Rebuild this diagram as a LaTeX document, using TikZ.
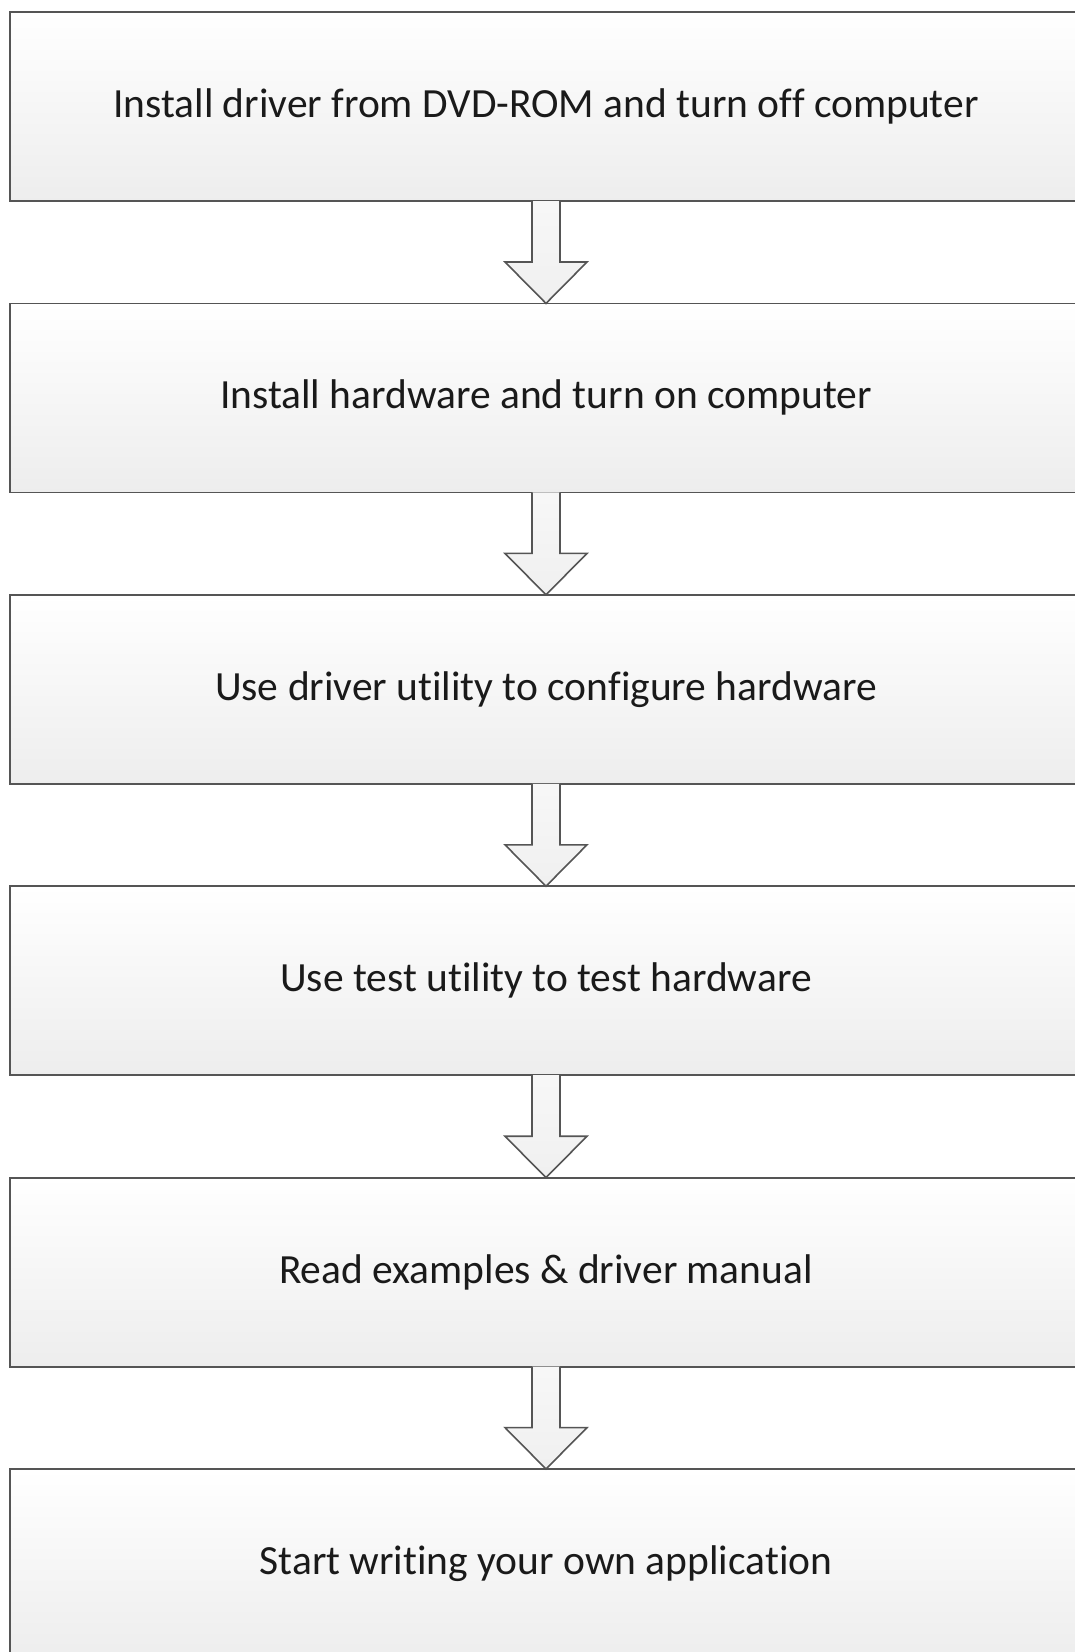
\documentclass[tikz,border=0pt]{standalone}
\usepackage{fontspec}
\setmainfont{Carlito}[Ligatures=NoCommon]
\usetikzlibrary{calc}
\definecolor{edgegray}{HTML}{555555}
\definecolor{txt}{HTML}{1A1A1A}
\tikzset{
  stepbox/.style={draw=edgegray, line width=1.8pt, top color=white, bottom color=black!7,
    minimum width=1072pt, minimum height=189pt, inner sep=0pt, outer sep=0pt,
    font=\fontsize{41.5}{48}\selectfont, text=txt},
  flowarrow/.style={draw=edgegray, line width=1.6pt, top color=black!3, bottom color=black!6, line join=miter}
}
\begin{document}
\begin{tikzpicture}[x=1pt,y=1pt]
\useasboundingbox (0,0) rectangle (1074,-1652);
\fill[white] (0,0) rectangle (1074,-1652);
\node[stepbox] (b1) at (546,-106.5) {Install driver from DVD-ROM and turn off computer};
\node[stepbox] (b2) at (546,-397.9) {Install hardware and turn on computer};
\node[stepbox] (b3) at (546,-689.3) {Use driver utility to configure hardware};
\node[stepbox] (b4) at (546,-980.7) {Use test utility to test hardware};
\node[stepbox] (b5) at (546,-1272.1) {Read examples \& driver manual};
\node[stepbox] (b6) at (546,-1563.5) {Start writing your own application};
\foreach \a/\b in {b1/b2,b2/b3,b3/b4,b4/b5,b5/b6}{
  \path[flowarrow] ($(\a.south)+(-14,0)$) -- ++(0,-61) -- ++(-27,0) -- (\b.north)
     -- ($(\a.south)+(41,-61)$) -- ++(-27,0) -- ($(\a.south)+(14,0)$);
}
\end{tikzpicture}
\end{document}
